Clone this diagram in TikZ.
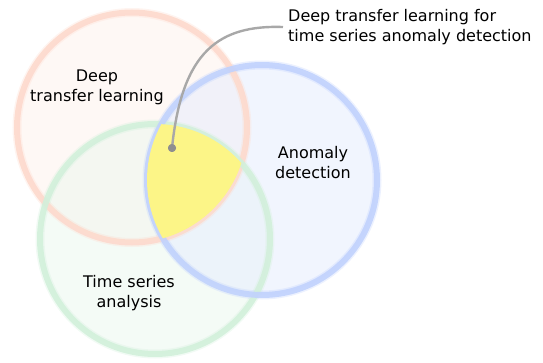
\documentclass[tikz,border=0pt]{standalone}
\usepackage{fontspec}
\setmainfont{DejaVu Sans}
\definecolor{ringR}{RGB}{253,218,205}
\definecolor{ringB}{RGB}{193,210,253}
\definecolor{ringG}{RGB}{210,240,219}
\definecolor{fillR}{RGB}{253,241,235}
\definecolor{fillB}{RGB}{228,236,253}
\definecolor{fillG}{RGB}{234,247,238}
\definecolor{venny}{RGB}{252,245,135}
\definecolor{leadgray}{RGB}{168,168,168}
\tikzset{
  setfill/.style={fill=#1, fill opacity=0.5, draw=none},
  ringsoft/.style={draw=#1, line width=9pt, draw opacity=0.3},
  ringcore/.style={draw=#1, line width=6pt, draw opacity=0.9},
  lbl/.style={font=\fontsize{16}{20}\selectfont, inner sep=0pt, align=center, text=black},
  leader/.style={draw=leadgray, line width=2.4pt},
  dotstyle/.style={circle, fill=leadgray!85!black, inner sep=0pt, minimum size=8pt}
}
\begin{document}
\begin{tikzpicture}[x=1pt, y=-1pt]
\useasboundingbox (0,0) rectangle (543,363);
\coordinate (cR) at (132,127.5);
\coordinate (cB) at (262,180);
\coordinate (cG) at (155,239);
% fills
\fill[setfill=fillR] (cR) circle[radius=115pt];
\fill[setfill=fillG] (cG) circle[radius=115pt];
\fill[setfill=fillB] (cB) circle[radius=115pt];
% rings
\draw[ringsoft=ringR] (cR) circle[radius=115pt];
\draw[ringsoft=ringG] (cG) circle[radius=115pt];
\draw[ringsoft=ringB] (cB) circle[radius=115pt];
\draw[ringcore=ringR] (cR) circle[radius=115pt];
\draw[ringcore=ringG] (cG) circle[radius=115pt];
\draw[ringcore=ringB] (cB) circle[radius=115pt];
% triple intersection
\begin{scope}
  \clip (cR) circle[radius=115pt];
  \clip (cB) circle[radius=115pt];
  \fill[venny] (cG) circle[radius=115pt];
\end{scope}
% labels
\node[lbl] (dtl) at (97,87) {Deep\\transfer learning};
\node[lbl] (ad) at (313,163) {Anomaly\\detection};
\node[lbl] (tsa) at (129,293) {Time series\\analysis};
\node[lbl, align=left, anchor=west, inner xsep=5pt] (call) at (283,27) {Deep transfer learning for\\time series anomaly detection};
% leader
\node[dotstyle] (dot) at (172,148) {};
\draw[leader] (dot.center) .. controls (182,50) and (220,25) .. (call.west);
\node[dotstyle] at (dot) {};
\end{tikzpicture}
\end{document}
